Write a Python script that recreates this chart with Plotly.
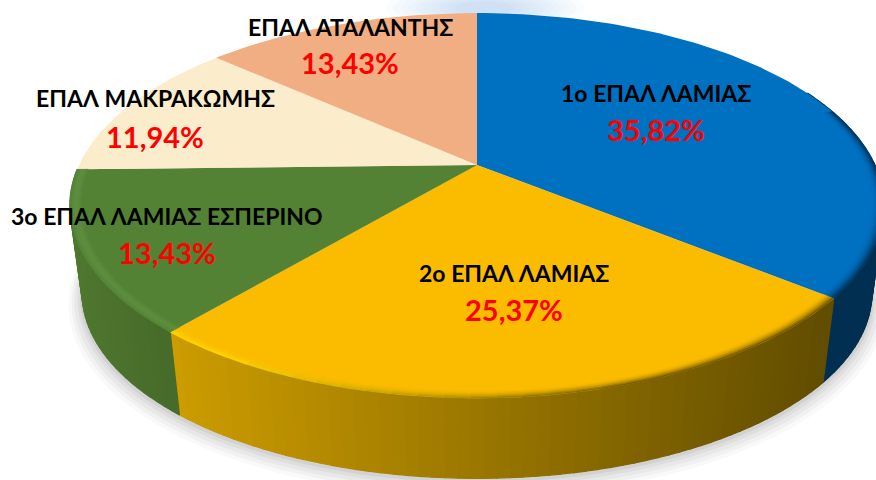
import numpy as np
import plotly.graph_objects as go

CATEGORIES = ["1ο ΕΠΑΛ ΛΑΜΙΑΣ", "2ο ΕΠΑΛ ΛΑΜΙΑΣ", "3ο ΕΠΑΛ ΛΑΜΙΑΣ ΕΣΠΕΡΙΝΟ", "ΕΠΑΛ ΜΑΚΡΑΚΩΜΗΣ", "ΕΠΑΛ ΑΤΑΛΑΝΤΗΣ"]
VALUES = [35.82, 25.37, 13.43, 11.94, 13.43]
LABELS = ["35,82%", "25,37%", "13,43%", "11,94%", "13,43%"]

COLORS = ["#0070C0", "#FBBC00", "#548235", "#FBEDCB", "#F0AE82"]
NAME_XY = [(656, 93), (514, 273), (167, 216), (155, 98), (350, 27)]
PCT_XY = [(656, 129), (514, 309), (167, 252), (155, 136), (350, 62)]

CX, CY, K = 477, 165, 0.211
A_TOP, B_TOP = 398, 184
A_BOT, B_BOT, DROP = 386, 177, 89


def project(theta, r=1.0, a=A_TOP, b=B_TOP, dy=0.0):
    u, v = r * np.sin(theta), -r * np.cos(theta)
    w = 1 - K * v
    return CX + a * u / w, CY + dy + b * v / w


def rgb(h):
    return np.array([int(h[i:i + 2], 16) for i in (1, 3, 5)], float)


def mix(c1, c2, t):
    c = c1 * (1 - t) + c2 * t
    return "rgb(%d,%d,%d)" % tuple(np.clip(c, 0, 255))


fig = go.Figure()


def poly(x, y, color, line=1.2):
    fig.add_trace(go.Scatter(
        x=list(x) + [x[0]], y=list(y) + [y[0]], mode="lines", fill="toself", fillcolor=color,
        line=dict(color=color, width=line), hoverinfo="skip", showlegend=False))


total = sum(VALUES)
edges = np.concatenate([[0], np.cumsum(VALUES)]) / total * 2 * np.pi

# soft shadow beneath the pie
th = np.linspace(np.pi * 0.30, np.pi * 1.72, 160)
for grow, shift, alpha in [(1.035, 11, 0.025), (1.027, 9, 0.03), (1.02, 7, 0.035), (1.012, 5, 0.04), (1.006, 3, 0.05)]:
    sx, sy = project(th, 1.0, A_BOT * grow, B_BOT * grow, DROP + shift)
    poly(sx, sy, "rgba(0,0,0,%g)" % alpha, line=0)

# faint glow behind the rear edge
for grow in np.linspace(1.0, 0.3, 10):
    gt = np.linspace(0, 2 * np.pi, 80)
    poly(485 + 100 * grow * np.cos(gt), 8 + 22 * grow * np.sin(gt), "rgba(120,180,225,0.035)", line=0)

# side wall
WALL = {
    0: ("#002F52", "#002F52"),
    1: ("#CC9C00", "#624D00"),
    2: ("#507830", "#466A2A"),
}
for i, (left_col, right_col) in WALL.items():
    a0, a1 = edges[i], edges[i + 1]
    if i == 0:
        a0 = np.pi * 0.36
    steps = max(int((a1 - a0) / np.radians(1.5)), 4)
    ang = np.linspace(a0, a1, steps + 1)
    for s in range(steps):
        seg = np.linspace(ang[s], ang[s + 1], 3)
        tx, ty = project(seg)
        bx, by = project(seg[::-1], 1.0, A_BOT, B_BOT, DROP)
        mid = project(seg[1])[0]
        t = np.clip((mid - 175) / (830 - 175), 0, 1) if i == 1 else (0.5 if i == 0 else np.clip((mid - 67) / 108, 0, 1))
        poly(np.r_[tx, bx], np.r_[ty, by], mix(rgb(left_col), rgb(right_col), t))

# top face
for i, c in enumerate(COLORS):
    arc = np.linspace(edges[i], edges[i + 1], 100)
    x, y = project(arc)
    poly(np.r_[CX, x], np.r_[CY, y], c, line=0)

# bevel around the front rim
RINGS = np.linspace(0.972, 1.0, 7)
for i, c in enumerate(COLORS[:3]):
    top = rgb(c)
    a0, a1 = edges[i], edges[i + 1]
    if i == 0:
        a0 = np.pi * 0.40
    steps = max(int((a1 - a0) / np.radians(3)), 4)
    ang = np.linspace(a0, a1, steps + 1)
    for s in range(steps):
        seg = np.linspace(ang[s], ang[s + 1], 3)
        mx = project(seg[1])[0]
        side = np.clip((mx - 230) / 400, 0, 1)
        if i == 0:
            target = rgb("#002F52")
        elif i == 1:
            target = rgb("#FFD800") * (1 - side) + rgb("#624D00") * side
        else:
            target = rgb("#5F9040")
        for k in range(len(RINGS) - 1):
            f = (k + 0.5) / (len(RINGS) - 1)
            wgt = f ** 2 if i != 2 else np.sin(np.pi * f) * 0.9
            ax, ay = project(seg, RINGS[k])
            ox, oy = project(seg[::-1], RINGS[k + 1])
            poly(np.r_[ax, ox], np.r_[ay, oy], mix(top, target, wgt), line=0.4)

# labels
for name, pct, nxy, pxy in zip(CATEGORIES, LABELS, NAME_XY, PCT_XY):
    fig.add_annotation(x=nxy[0], y=nxy[1], text="<b>%s</b>" % name, showarrow=False,
                       font=dict(family="Lato", size=23, color="#000000"))
    fig.add_annotation(x=pxy[0], y=pxy[1], text="<b>%s</b>" % pct, showarrow=False,
                       font=dict(family="Lato", size=29, color="#FF0000"))

fig.update_layout(
    width=876, height=480, margin=dict(l=0, r=0, t=0, b=0),
    paper_bgcolor="#FFFFFF", plot_bgcolor="#FFFFFF", showlegend=False,
    xaxis=dict(range=[0, 876], visible=False, fixedrange=True),
    yaxis=dict(range=[480, 0], visible=False, fixedrange=True),
)
fig.write_html("out.html", config=dict(displayModeBar=False),
               post_script="document.body.style.margin='0';document.body.style.overflow='hidden';")
